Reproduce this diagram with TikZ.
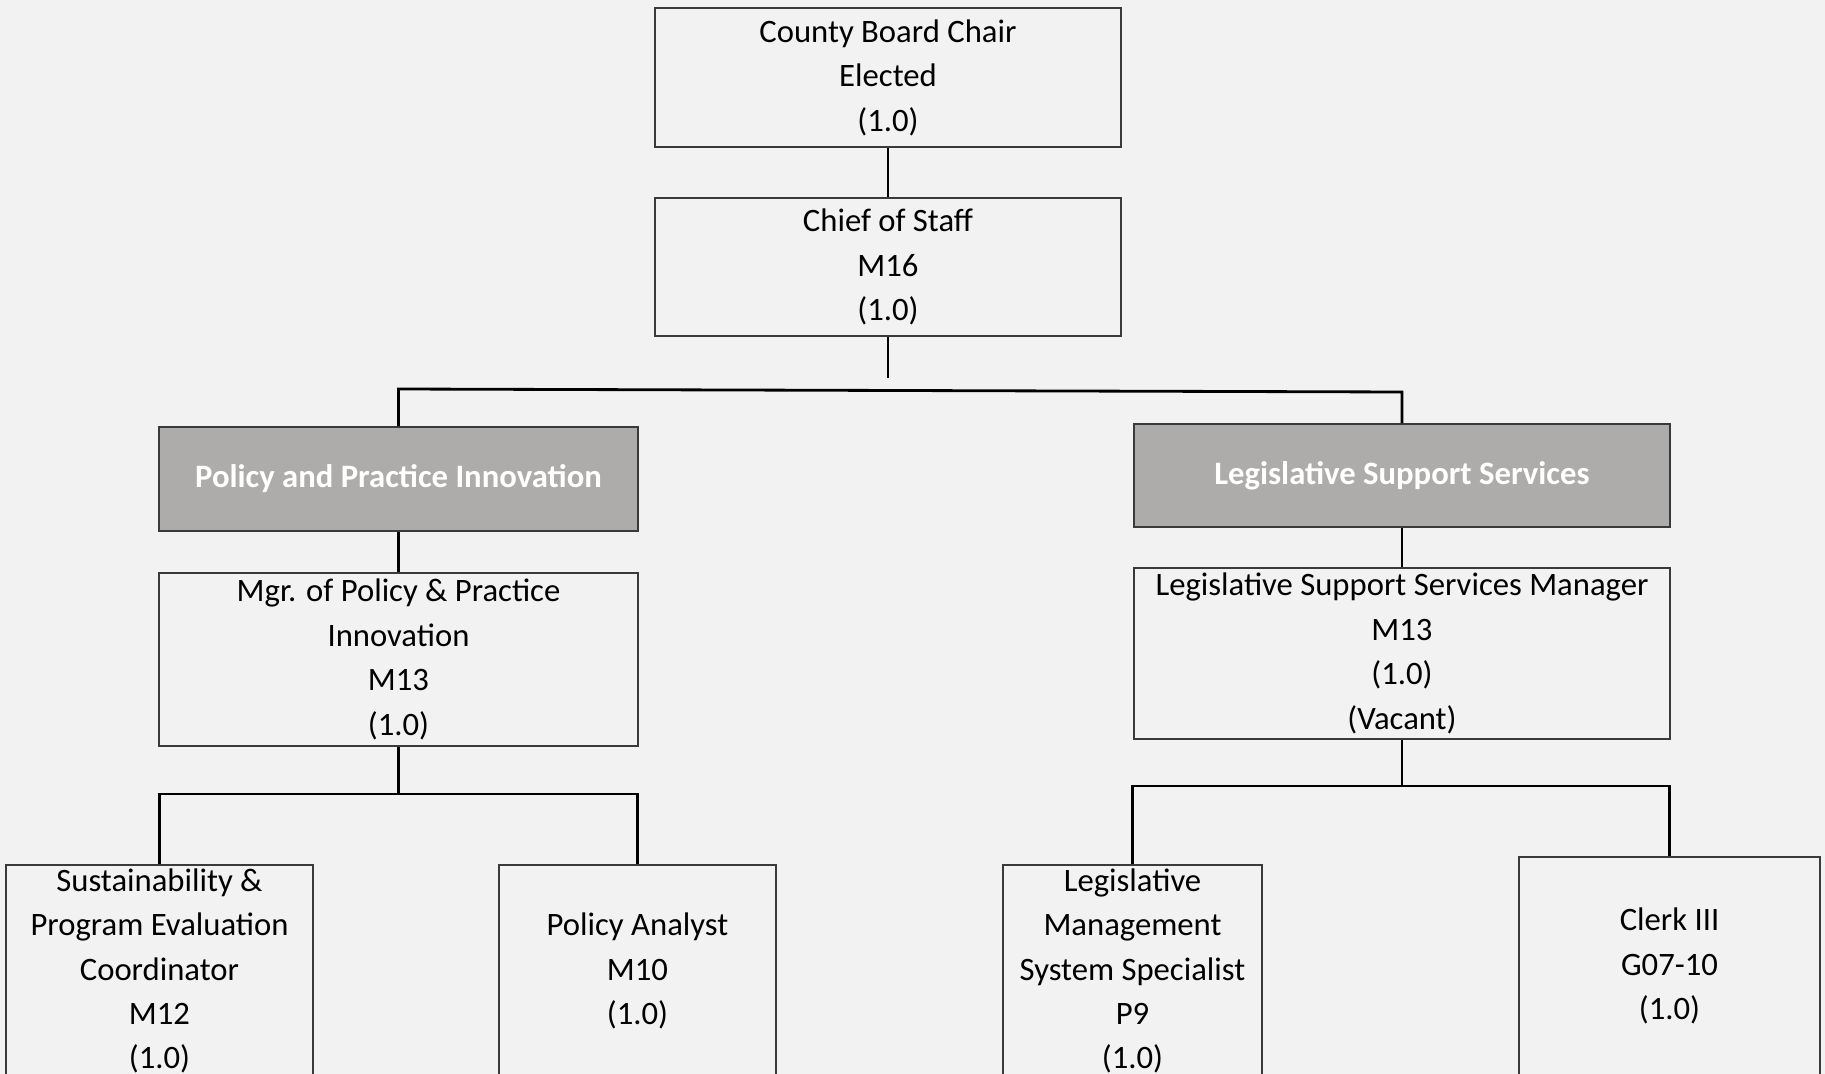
\documentclass[tikz,border=0pt]{standalone}
\usepackage{fontspec}
\setmainfont{Carlito}
\definecolor{bgc}{HTML}{F2F2F2}
\definecolor{unitgray}{HTML}{AEABAB}
\definecolor{edge}{HTML}{3A3A3A}
\begin{document}
\begin{tikzpicture}[x=0.02cm, y=-0.02cm,
    every node/.style={draw=edge, line width=1pt, align=center, inner sep=0pt,
      font=\fontsize{18.6}{25.3}\selectfont},
    post/.style={fill=bgc},
    unit/.style={fill=unitgray, text=white, font=\fontsize{18.6}{25.3}\selectfont\bfseries},
    link/.style={line width=1.6pt}]
            \fill[bgc] (0,0) rectangle (1825,1074);
            \useasboundingbox (0,0) rectangle (1825,1074);

            % Vertice
            \node (chair) at (888,77.5) [post, minimum width=9.32cm, minimum height=2.78cm] {County Board Chair\\Elected\\(1.0)};
            \node (chief) at (888,267) [post, minimum width=9.32cm, minimum height=2.76cm] {Chief of Staff\\M16\\(1.0)};

            % Unita
            \node (ppi) at (398.5,479) [unit, minimum width=9.58cm, minimum height=2.08cm] {Policy and Practice Innovation};
            \node (lss) at (1402,475.5) [unit, minimum width=10.72cm, minimum height=2.06cm] {Legislative Support Services};

            % Manager
            \node (mgr) at (398.5,659.5) [post, minimum width=9.58cm, minimum height=3.46cm] {Mgr. of Policy \& Practice\\Innovation\\M13\\(1.0)};
            \node (lssm) at (1402,653.5) [post, minimum width=10.72cm, minimum height=3.42cm] {Legislative Support Services Manager\\M13\\(1.0)\\(Vacant)};

            % Livello inferiore
            \node (sust) at (159.5,971) [post, minimum width=6.14cm, minimum height=4.24cm] {Sustainability \&\\Program Evaluation\\Coordinator\\M12\\(1.0)};
            \node (pa) at (637.5,971) [post, minimum width=5.54cm, minimum height=4.24cm] {Policy Analyst\\M10\\(1.0)};
            \node (lms) at (1132.5,971) [post, minimum width=5.18cm, minimum height=4.24cm] {Legislative\\Management\\System Specialist\\P9\\(1.0)};
            \node (clerk) at (1669.5,966) [post, minimum width=6.02cm, minimum height=4.36cm] {Clerk III\\G07-10\\(1.0)};

            % Collegamenti
            \coordinate (stub) at (888,378);
            \coordinate (barL) at (398.5,389);
            \coordinate (barR) at (1402,392);
            \draw[link] (chair) -- (chief);
            \draw[link] (chief) -- (stub);
            \draw[link] (ppi) -- (barL) -- (barR) -- (lss);
            \draw[link] (ppi) -- (mgr);
            \draw[link] (lss) -- (lssm);
            \draw[link] (mgr.south) -- (398.5,794);
            \draw[link] (sust.north) -- (sust.north |- 0,794) -- (pa.north |- 0,794) -- (pa.north);
            \draw[link] (lssm.south) -- (1402,786);
            \draw[link] (lms.north) -- (lms.north |- 0,786) -- (clerk.north |- 0,786) -- (clerk.north);
\end{tikzpicture}
\end{document}
